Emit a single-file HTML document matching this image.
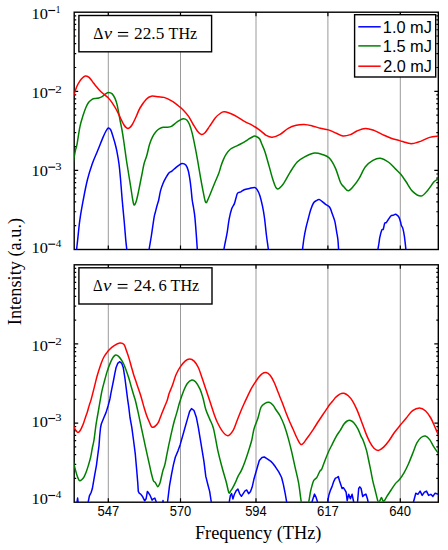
<!DOCTYPE html><html><head><meta charset="utf-8"><style>html,body{margin:0;padding:0;background:#fff;}svg{display:block;}</style></head><body>
<svg width="448" height="550" viewBox="0 0 448 550">
<defs><clipPath id="cT"><rect x="74.2" y="12.2" width="364.1" height="237.3"/></clipPath>
<clipPath id="cB"><rect x="74.2" y="264.8" width="364.1" height="237.4"/></clipPath></defs>
<rect width="448" height="550" fill="#fff"/>
<path d="M108.3,12.2 V249.5 M180.5,12.2 V249.5 M256,12.2 V249.5 M327.9,12.2 V249.5 M400.3,12.2 V249.5" stroke="#9a9a9a" stroke-width="1" fill="none"/>
<path d="M108.3,249.5 v-4 M108.3,12.2 v4 M180.5,249.5 v-4 M180.5,12.2 v4 M256,249.5 v-4 M256,12.2 v4 M327.9,249.5 v-4 M327.9,12.2 v4 M400.3,249.5 v-4 M400.3,12.2 v4 M74.2,67.49 h2 M438.3,67.49 h-2 M74.2,53.56 h2 M438.3,53.56 h-2 M74.2,43.68 h2 M438.3,43.68 h-2 M74.2,36.01 h2 M438.3,36.01 h-2 M74.2,29.75 h2 M438.3,29.75 h-2 M74.2,24.45 h2 M438.3,24.45 h-2 M74.2,19.87 h2 M438.3,19.87 h-2 M74.2,15.82 h2 M438.3,15.82 h-2 M74.2,91.3 h4 M438.3,91.3 h-4 M74.2,146.59 h2 M438.3,146.59 h-2 M74.2,132.66 h2 M438.3,132.66 h-2 M74.2,122.78 h2 M438.3,122.78 h-2 M74.2,115.11 h2 M438.3,115.11 h-2 M74.2,108.85 h2 M438.3,108.85 h-2 M74.2,103.55 h2 M438.3,103.55 h-2 M74.2,98.97 h2 M438.3,98.97 h-2 M74.2,94.92 h2 M438.3,94.92 h-2 M74.2,170.4 h4 M438.3,170.4 h-4 M74.2,225.69 h2 M438.3,225.69 h-2 M74.2,211.76 h2 M438.3,211.76 h-2 M74.2,201.88 h2 M438.3,201.88 h-2 M74.2,194.21 h2 M438.3,194.21 h-2 M74.2,187.95 h2 M438.3,187.95 h-2 M74.2,182.65 h2 M438.3,182.65 h-2 M74.2,178.07 h2 M438.3,178.07 h-2 M74.2,174.02 h2 M438.3,174.02 h-2" stroke="#000" stroke-width="1.2" fill="none"/>
<rect x="74.2" y="12.2" width="364.1" height="237.3" fill="none" stroke="#000" stroke-width="1.4"/>
<g clip-path="url(#cT)" fill="none" stroke-width="1.5" stroke-linejoin="round" stroke-linecap="round">
<path d="M76.2,255 C76.27,254.08 76.37,251.93 76.6,249.5 C76.83,247.07 77.07,245.27 77.6,240.4 C78.13,235.53 78.87,227 79.8,220.3 C80.73,213.6 81.95,206.88 83.2,200.2 C84.45,193.52 85.8,186.23 87.3,180.2 C88.8,174.17 90.48,168.9 92.2,164 C93.92,159.1 95.8,155.23 97.6,150.8 C99.4,146.37 101.6,140.7 103,137.4 C104.4,134.1 105.12,132.57 106,131 C106.88,129.43 107.55,128.25 108.3,128 C109.05,127.75 109.9,128.68 110.5,129.5 C111.1,130.32 111.22,130.83 111.9,132.9 C112.58,134.97 113.78,138.92 114.6,141.9 C115.42,144.88 116.07,147.12 116.8,150.8 C117.53,154.48 118.37,159.13 119,164 C119.63,168.87 120.07,174 120.6,180 C121.13,186 121.62,193.28 122.2,200 C122.78,206.72 123.5,213.57 124.1,220.3 C124.7,227.03 125.35,235.53 125.8,240.4 C126.25,245.27 126.57,247.07 126.8,249.5 C127.03,251.93 127.13,254.08 127.2,255" stroke="#00f"/>
<path d="M148.5,255 C148.6,254.08 148.6,252.83 149.1,249.5 C149.6,246.17 150.67,240.35 151.5,235 C152.33,229.65 153.45,221.23 154.1,217.4 C154.75,213.57 154.88,214.07 155.4,212 C155.92,209.93 156.65,207 157.2,205 C157.75,203 158.15,202.35 158.7,200 C159.25,197.65 159.8,193.62 160.5,190.9 C161.2,188.18 162,185.9 162.9,183.7 C163.8,181.5 164.9,179.5 165.9,177.7 C166.9,175.9 167.9,174 168.9,172.9 C169.9,171.8 170.7,172.02 171.9,171.1 C173.1,170.18 174.83,168.45 176.1,167.4 C177.37,166.35 178.5,165.45 179.5,164.8 C180.5,164.15 181.05,163.47 182.1,163.5 C183.15,163.53 184.78,163.83 185.8,165 C186.82,166.17 187.5,167.98 188.2,170.5 C188.9,173.02 189.5,176.85 190,180.1 C190.5,183.35 190.83,186.68 191.2,190 C191.57,193.32 191.8,197 192.2,200 C192.6,203 193.15,205.1 193.6,208 C194.05,210.9 194.47,213.15 194.9,217.4 C195.33,221.65 195.8,228.15 196.2,233.5 C196.6,238.85 197.07,245.92 197.3,249.5 C197.53,253.08 197.55,254.08 197.6,255" stroke="#00f"/>
<path d="M223.3,255 C223.4,254.08 223.53,251.83 223.9,249.5 C224.27,247.17 224.95,243.85 225.5,241 C226.05,238.15 226.6,236.02 227.2,232.4 C227.8,228.78 228.35,223.23 229.1,219.3 C229.85,215.37 230.82,211.42 231.7,208.8 C232.58,206.18 233.68,205.4 234.4,203.6 C235.12,201.8 235.47,199.75 236,198 C236.53,196.25 236.78,194.13 237.6,193.1 C238.42,192.07 239.8,192.35 240.9,191.8 C242,191.25 242.78,190.35 244.2,189.8 C245.62,189.25 247.67,188.88 249.4,188.5 C251.13,188.12 253.28,187.28 254.6,187.5 C255.92,187.72 256.42,188.43 257.3,189.8 C258.18,191.17 259.03,192.97 259.9,195.7 C260.77,198.43 261.73,202.48 262.5,206.2 C263.27,209.92 263.85,213.2 264.5,218 C265.15,222.8 265.75,229.75 266.4,235 C267.05,240.25 268,246.17 268.4,249.5 C268.8,252.83 268.73,254.08 268.8,255" stroke="#00f"/>
<path d="M301.8,255 C301.92,254.08 302.13,252.33 302.5,249.5 C302.87,246.67 303.4,241.72 304,238 C304.6,234.28 305.37,230.5 306.1,227.2 C306.83,223.9 307.63,221.12 308.4,218.2 C309.17,215.28 309.85,212.23 310.7,209.7 C311.55,207.17 312.57,204.5 313.5,203 C314.43,201.5 315.37,201.27 316.3,200.7 C317.23,200.13 318.17,199.5 319.1,199.6 C320.03,199.7 320.87,200.55 321.9,201.3 C322.93,202.05 324.17,203.27 325.3,204.1 C326.43,204.93 327.85,205.55 328.7,206.3 C329.55,207.05 329.75,207.18 330.4,208.6 C331.05,210.02 331.85,212.63 332.6,214.8 C333.35,216.97 334.23,218.78 334.9,221.6 C335.57,224.42 336.1,228.7 336.6,231.7 C337.1,234.7 337.57,236.63 337.9,239.6 C338.23,242.57 338.43,246.93 338.6,249.5 C338.77,252.07 338.85,254.08 338.9,255" stroke="#00f"/>
<path d="M377.5,255 C377.57,254.08 377.65,251.5 377.9,249.5 C378.15,247.5 378.68,245.02 379,243 C379.32,240.98 379.33,239.57 379.8,237.4 C380.27,235.23 381.22,231.38 381.8,230 C382.38,228.62 382.82,230.23 383.3,229.1 C383.78,227.97 384.22,224.27 384.7,223.2 C385.18,222.13 385.62,223.28 386.2,222.7 C386.78,222.12 387.38,220.85 388.2,219.7 C389.02,218.55 390.28,216.53 391.1,215.8 C391.92,215.07 392.37,215.55 393.1,215.3 C393.83,215.05 394.77,214.27 395.5,214.3 C396.23,214.33 396.92,215 397.5,215.5 C398.08,216 398.5,216.27 399,217.3 C399.5,218.33 400.1,220.32 400.5,221.7 C400.9,223.08 401,224.45 401.4,225.6 C401.8,226.75 402.4,226.8 402.9,228.6 C403.4,230.4 403.9,232.92 404.4,236.4 C404.9,239.88 405.58,246.4 405.9,249.5 C406.22,252.6 406.23,254.08 406.3,255" stroke="#00f"/>
<path d="M73,164 C73.17,163 73.58,160.33 74,158 C74.42,155.67 75,152.27 75.5,150 C76,147.73 76.25,148.35 77,144.4 C77.75,140.45 78.97,131.18 80,126.3 C81.03,121.42 82.2,118.27 83.2,115.1 C84.2,111.93 85.08,109.43 86,107.3 C86.92,105.17 87.68,103.63 88.7,102.3 C89.72,100.97 90.98,99.95 92.1,99.3 C93.22,98.65 94.28,98.62 95.4,98.4 C96.52,98.18 97.68,98.28 98.8,98 C99.92,97.72 100.98,97.38 102.1,96.7 C103.22,96.02 104.38,94.6 105.5,93.9 C106.62,93.2 107.68,92.5 108.8,92.5 C109.92,92.5 111.17,92.92 112.2,93.9 C113.23,94.88 114.17,96.53 115,98.4 C115.83,100.27 116.37,101.5 117.2,105.1 C118.03,108.7 119.2,115.85 120,120 C120.8,124.15 121.4,126.67 122,130 C122.6,133.33 123.1,136.67 123.6,140 C124.1,143.33 124.53,146.67 125,150 C125.47,153.33 125.9,156.67 126.4,160 C126.9,163.33 127.47,166.67 128,170 C128.53,173.33 129.07,176.67 129.6,180 C130.13,183.33 130.7,186.83 131.2,190 C131.7,193.17 132.13,196.5 132.6,199 C133.07,201.5 133.43,204.5 134,205 C134.57,205.5 135.33,203.83 136,202 C136.67,200.17 137.33,197 138,194 C138.67,191 139.33,187.33 140,184 C140.67,180.67 141.33,177.33 142,174 C142.67,170.67 143.2,167.08 144,164 C144.8,160.92 145.88,158.75 146.8,155.5 C147.72,152.25 148.58,147.53 149.5,144.5 C150.42,141.47 151.23,139.42 152.3,137.3 C153.37,135.18 154.7,133.23 155.9,131.8 C157.1,130.37 158.28,129.45 159.5,128.7 C160.72,127.95 161.83,127.53 163.2,127.3 C164.57,127.07 166.33,127.45 167.7,127.3 C169.07,127.15 170.18,127.02 171.4,126.4 C172.62,125.78 173.8,124.52 175,123.6 C176.2,122.68 177.23,121.72 178.6,120.9 C179.97,120.08 181.83,118.85 183.2,118.7 C184.57,118.55 185.75,119.03 186.8,120 C187.85,120.97 188.58,122.23 189.5,124.5 C190.42,126.77 191.38,129.95 192.3,133.6 C193.22,137.25 194.1,141.85 195,146.4 C195.9,150.95 196.78,155.75 197.7,160.9 C198.62,166.05 199.58,172.15 200.5,177.3 C201.42,182.45 202.32,187.6 203.2,191.8 C204.08,196 204.9,201.47 205.8,202.5 C206.7,203.53 207.65,199.92 208.6,198 C209.55,196.08 210.5,193.47 211.5,191 C212.5,188.53 213.37,186.2 214.6,183.2 C215.83,180.2 217.83,175.87 218.9,173 C219.97,170.13 220.27,168.18 221,166 C221.73,163.82 222.43,161.88 223.3,159.9 C224.17,157.92 224.98,155.92 226.2,154.1 C227.42,152.28 228.67,150.45 230.6,149 C232.53,147.55 235.87,146.37 237.8,145.4 C239.73,144.43 240.5,144.17 242.2,143.2 C243.9,142.23 246.45,140.55 248,139.6 C249.55,138.65 250.4,138.1 251.5,137.5 C252.6,136.9 253.65,136.08 254.6,136 C255.55,135.92 256.35,136.5 257.2,137 C258.05,137.5 258.9,137.75 259.7,139 C260.5,140.25 261.12,142.33 262,144.5 C262.88,146.67 263.82,148.4 265,152 C266.18,155.6 267.75,161.4 269.1,166.1 C270.45,170.8 271.77,176.42 273.1,180.2 C274.43,183.98 275.43,188.13 277.1,188.8 C278.77,189.47 280.92,186.98 283.1,184.2 C285.28,181.42 287.85,175.78 290.2,172.1 C292.55,168.42 294.87,164.6 297.2,162.1 C299.53,159.6 301.35,158.6 304.2,157.1 C307.05,155.6 311.28,153.53 314.3,153.1 C317.32,152.67 319.8,153.67 322.3,154.5 C324.8,155.33 327.12,155.83 329.3,158.1 C331.48,160.37 333.55,164.08 335.4,168.1 C337.25,172.12 338.97,179.05 340.4,182.2 C341.83,185.35 342.68,185.57 344,187 C345.32,188.43 346.7,190.95 348.3,190.8 C349.9,190.65 351.82,188.13 353.6,186.1 C355.38,184.07 357.03,181.82 359,178.6 C360.97,175.38 363.08,169.83 365.4,166.8 C367.72,163.77 370.4,161.83 372.9,160.4 C375.4,158.97 377.72,157.85 380.4,158.2 C383.08,158.55 386.5,160.72 389,162.5 C391.5,164.28 393.43,166.93 395.4,168.9 C397.37,170.87 399.02,172.15 400.8,174.3 C402.58,176.45 404.13,178.95 406.1,181.8 C408.07,184.65 410.1,189.02 412.6,191.4 C415.1,193.78 418.6,196.27 421.1,196.1 C423.6,195.93 425.45,192.78 427.6,190.4 C429.75,188.02 432.18,183.77 434,181.8 C435.82,179.83 437.75,179.13 438.5,178.6" stroke="#008000"/>
<path d="M74,95 C74.42,93.7 75.53,89.52 76.5,87.2 C77.47,84.88 78.78,82.68 79.8,81.1 C80.82,79.52 81.67,78.55 82.6,77.7 C83.53,76.85 84.38,76.08 85.4,76 C86.42,75.92 87.58,76.35 88.7,77.2 C89.82,78.05 90.98,79.72 92.1,81.1 C93.22,82.48 94.28,84.12 95.4,85.5 C96.52,86.88 97.68,88.18 98.8,89.4 C99.92,90.62 100.98,91.77 102.1,92.8 C103.22,93.83 104.38,94.67 105.5,95.6 C106.62,96.53 107.68,97.2 108.8,98.4 C109.92,99.6 111,101.03 112.2,102.8 C113.4,104.57 114.7,106.63 116,109 C117.3,111.37 118.67,114.33 120,117 C121.33,119.67 122.67,123.08 124,125 C125.33,126.92 126.67,128.5 128,128.5 C129.33,128.5 130.67,126.92 132,125 C133.33,123.08 134.67,119.83 136,117 C137.33,114.17 138.28,110.97 140,108 C141.72,105.03 144.42,101.17 146.3,99.2 C148.18,97.23 149.28,96.6 151.3,96.2 C153.32,95.8 156.28,96.6 158.4,96.8 C160.52,97 161.73,96.67 164,97.4 C166.27,98.13 169.32,99.57 172,101.2 C174.68,102.83 178.23,105.73 180.1,107.2 C181.97,108.67 181.78,108.47 183.2,110 C184.62,111.53 186.93,113.98 188.6,116.4 C190.27,118.82 191.68,121.98 193.2,124.5 C194.72,127.02 196.33,129.83 197.7,131.5 C199.07,133.17 200.18,134.3 201.4,134.5 C202.62,134.7 203.65,134.05 205,132.7 C206.35,131.35 207.83,128.82 209.5,126.4 C211.17,123.98 213.33,120.27 215,118.2 C216.67,116.13 217.95,115.07 219.5,114 C221.05,112.93 221.83,111.6 224.3,111.8 C226.77,112 230.95,113.62 234.3,115.2 C237.65,116.78 241.38,119.62 244.4,121.3 C247.42,122.98 249.8,123.8 252.4,125.3 C255,126.8 257.72,128.63 260,130.3 C262.28,131.97 264.08,134.13 266.1,135.3 C268.12,136.47 269.77,137.47 272.1,137.3 C274.43,137.13 277.42,135.8 280.1,134.3 C282.78,132.8 285.52,129.8 288.2,128.3 C290.88,126.8 293.53,125.93 296.2,125.3 C298.87,124.67 301.52,124.4 304.2,124.5 C306.88,124.6 309.62,125.27 312.3,125.9 C314.98,126.53 317.63,127.63 320.3,128.3 C322.97,128.97 325.62,129.07 328.3,129.9 C330.98,130.73 333.95,132.28 336.4,133.3 C338.85,134.32 340.67,135.78 343,136 C345.33,136.22 348.08,135.43 350.4,134.6 C352.72,133.77 354.4,132.03 356.9,131 C359.4,129.97 362.55,128.5 365.4,128.4 C368.25,128.3 371.13,129.37 374,130.4 C376.87,131.43 379.75,133.28 382.6,134.6 C385.45,135.92 388.25,137.3 391.1,138.3 C393.95,139.3 397.2,139.88 399.7,140.6 C402.2,141.32 403.95,142.1 406.1,142.6 C408.25,143.1 410.1,143.85 412.6,143.6 C415.1,143.35 418.25,142.13 421.1,141.1 C423.95,140.07 426.8,138.23 429.7,137.4 C432.6,136.57 437.03,136.32 438.5,136.1" stroke="#f00"/>
</g>
<text x="31.51" y="18.9" font-family="'Liberation Serif', serif" font-size="15.34" textLength="16.34" lengthAdjust="spacingAndGlyphs" fill="#000">10</text>
<rect x="48.3" y="9.93" width="6.9" height="1.15" fill="#000"/>
<text x="55.81" y="13.3" font-family="'Liberation Serif', serif" font-size="9.39" textLength="4.65" lengthAdjust="spacingAndGlyphs" fill="#000">1</text>
<text x="31.51" y="98.1" font-family="'Liberation Serif', serif" font-size="15.34" textLength="16.34" lengthAdjust="spacingAndGlyphs" fill="#000">10</text>
<rect x="48.3" y="89.13" width="6.9" height="1.15" fill="#000"/>
<text x="55.31" y="92.5" font-family="'Liberation Serif', serif" font-size="9.39" textLength="6.5" lengthAdjust="spacingAndGlyphs" fill="#000">2</text>
<text x="31.51" y="175.6" font-family="'Liberation Serif', serif" font-size="15.34" textLength="16.34" lengthAdjust="spacingAndGlyphs" fill="#000">10</text>
<rect x="48.3" y="166.63" width="6.9" height="1.15" fill="#000"/>
<text x="55.34" y="170" font-family="'Liberation Serif', serif" font-size="9.39" textLength="6.27" lengthAdjust="spacingAndGlyphs" fill="#000">3</text>
<text x="31.51" y="252.6" font-family="'Liberation Serif', serif" font-size="15.34" textLength="16.34" lengthAdjust="spacingAndGlyphs" fill="#000">10</text>
<rect x="48.3" y="243.63" width="6.9" height="1.15" fill="#000"/>
<text x="55.68" y="247" font-family="'Liberation Serif', serif" font-size="9.39" textLength="5.59" lengthAdjust="spacingAndGlyphs" fill="#000">4</text>
<path d="M108.3,264.8 V502.2 M180.5,264.8 V502.2 M256,264.8 V502.2 M327.9,264.8 V502.2 M400.3,264.8 V502.2" stroke="#9a9a9a" stroke-width="1" fill="none"/>
<path d="M108.3,502.2 v-4 M108.3,264.8 v4 M180.5,502.2 v-4 M180.5,264.8 v4 M256,502.2 v-4 M256,264.8 v4 M327.9,502.2 v-4 M327.9,264.8 v4 M400.3,502.2 v-4 M400.3,264.8 v4 M74.2,320.11 h2 M438.3,320.11 h-2 M74.2,306.18 h2 M438.3,306.18 h-2 M74.2,296.29 h2 M438.3,296.29 h-2 M74.2,288.62 h2 M438.3,288.62 h-2 M74.2,282.36 h2 M438.3,282.36 h-2 M74.2,277.06 h2 M438.3,277.06 h-2 M74.2,272.47 h2 M438.3,272.47 h-2 M74.2,268.42 h2 M438.3,268.42 h-2 M74.2,343.93 h4 M438.3,343.93 h-4 M74.2,399.25 h2 M438.3,399.25 h-2 M74.2,385.31 h2 M438.3,385.31 h-2 M74.2,375.42 h2 M438.3,375.42 h-2 M74.2,367.75 h2 M438.3,367.75 h-2 M74.2,361.49 h2 M438.3,361.49 h-2 M74.2,356.19 h2 M438.3,356.19 h-2 M74.2,351.6 h2 M438.3,351.6 h-2 M74.2,347.55 h2 M438.3,347.55 h-2 M74.2,423.07 h4 M438.3,423.07 h-4 M74.2,478.38 h2 M438.3,478.38 h-2 M74.2,464.44 h2 M438.3,464.44 h-2 M74.2,454.56 h2 M438.3,454.56 h-2 M74.2,446.89 h2 M438.3,446.89 h-2 M74.2,440.62 h2 M438.3,440.62 h-2 M74.2,435.32 h2 M438.3,435.32 h-2 M74.2,430.74 h2 M438.3,430.74 h-2 M74.2,426.69 h2 M438.3,426.69 h-2" stroke="#000" stroke-width="1.2" fill="none"/>
<rect x="74.2" y="264.8" width="364.1" height="237.4" fill="none" stroke="#000" stroke-width="1.4"/>
<g clip-path="url(#cB)" fill="none" stroke-width="1.5" stroke-linejoin="round" stroke-linecap="round">
<path d="M76.5,506 L77.6,498.1 L78.6,506" stroke="#00f"/>
<path d="M87.5,507 L88.3,501.5 L89.4,495.8 L91.2,492.3 L92.3,488.8 L93.5,481.9 L94.7,474.9 L96.4,465.6 L97.6,456.3 L99,445.8 L99.7,436 L100.5,428 L101.3,424 L103.4,418.7 L106.1,412.4 L108.2,405.5 L109.9,399 L110.9,393.3 L112.2,386.9 L113.5,380.5 L114.7,374.2 L116,367.8 L117.7,363.4 L119.8,361.7 L121.8,363.4 L123.3,367.8 L124.9,378 L126.2,388.2 L127.5,398.4 L128.8,407.3 L130,417.5 L131.8,427.3 L133.5,440 L135.3,454.2 L136.7,470 L137.8,483.4 L138.3,491.4 L139.4,493.4 L140.7,494.1 L142.7,496.8 L144.7,500.8 L146.1,498.8 L147.4,491.4 L148.5,492.8 L149.8,494.8 L150.7,496.8 L152.1,500.1 L153.4,498.8 L154.8,498.1 L156.1,501.5 L157,507" stroke="#00f"/>
<path d="M162.3,506 L163,500.5 L163.7,506" stroke="#00f"/>
<path d="M167,507 L167.6,501.5 L169.5,485.9 L171.5,474.5 L173.4,464.9 L175.3,457.3 L178.1,450.6 L180.1,444.9 L182,438.2 L183.9,431.5 L185.8,424.8 L187.7,418.1 L189.6,411.5 L191.5,408.6 L194,410.5 L196.3,417.2 L198.2,426.7 L200.1,438.2 L202,449.6 L203.9,461.1 L205.8,476.4 L207.7,484 L209.7,491.6 L211.2,501.5 L211.8,507" stroke="#00f"/>
<path d="M229,507 L229.3,501.6 L230.4,495.4 L231.6,493.6 L232.9,498.9 L234.3,494.5 L236.1,490.9 L237.9,489.1 L239.6,493.6 L241.4,496.3 L243.2,493.6 L245,490.9 L246.8,490 L248.6,493.6 L250.4,491.8 L252.1,487.3 L253.9,479.3 L255.7,473 L257.5,466.8 L259.3,460.5 L262,457.5 L264.3,457 L267.3,458.8 L270.9,461.4 L272.7,463.2 L275.4,466.8 L278.9,472.1 L281.6,477.5 L283.4,484.6 L285.2,493.6 L286.6,501.6 L287,507" stroke="#00f"/>
<path d="M311.5,507 L312.1,501.5 L314.5,494.1 L316.1,497.4 L317.4,501.5 L318,507" stroke="#00f"/>
<path d="M327.3,507 L327.7,501.5 L328.9,494.9 L330.5,490.1 L332.2,486.1 L333.8,481.3 L335.4,478.1 L337,477.6 L338.3,476.5 L339.4,480.5 L341,485.3 L342.1,488.5 L343.4,487.7 L345,490.1 L346.1,492.1 L347.2,500.7 L348.7,494.3 L350.4,498.6 L352.1,494.3 L353.6,501.5 L354,507" stroke="#00f"/>
<path d="M356.5,507 L357.6,501.5 L358.7,488.5 L359.8,486.9 L361.1,488.5 L362.7,496.5 L364.3,494.9 L365.9,494.1 L367.5,499 L369.1,507" stroke="#00f"/>
<path d="M413,507 L413.6,501.5 L415.8,493.2 L417.9,494.3 L420.1,491.1 L422.2,495.4 L424.4,492.1 L426.5,491.1 L428.6,495.4 L430.8,494.3 L432.9,496.4 L435.1,493.2 L438.5,494.3" stroke="#00f"/>
<path d="M73,460 C73.17,460.73 73.58,462.7 74,464.4 C74.42,466.1 74.97,468.27 75.5,470.2 C76.03,472.13 76.62,474.35 77.2,476 C77.78,477.65 78.52,479.32 79,480.1 C79.48,480.88 79.52,480.88 80.1,480.7 C80.68,480.52 81.82,479.68 82.5,479 C83.18,478.32 83.62,477.67 84.2,476.6 C84.78,475.53 85.32,474.43 86,472.6 C86.68,470.77 87.53,468.13 88.3,465.6 C89.07,463.07 89.93,460.32 90.6,457.4 C91.27,454.48 91.73,451 92.3,448.1 C92.87,445.2 93.37,443.98 94,440 C94.63,436.02 95.52,428.2 96.1,424.2 C96.68,420.2 97.05,418.62 97.5,416 C97.95,413.38 98.37,411.02 98.8,408.5 C99.23,405.98 99.57,403.87 100.1,400.9 C100.63,397.93 101.25,394.1 102,390.7 C102.75,387.3 103.75,383.68 104.6,380.5 C105.45,377.32 106.27,374.25 107.1,371.6 C107.93,368.95 108.75,366.72 109.6,364.6 C110.45,362.48 111.45,360.32 112.2,358.9 C112.95,357.48 113.47,356.73 114.1,356.1 C114.73,355.47 115.25,355.05 116,355.1 C116.75,355.15 117.75,355.67 118.6,356.4 C119.45,357.13 120.25,358.23 121.1,359.5 C121.95,360.77 122.85,362.18 123.7,364 C124.55,365.82 125.35,368.07 126.2,370.4 C127.05,372.73 127.95,375.25 128.8,378 C129.65,380.75 130.45,383.93 131.3,386.9 C132.15,389.87 133.2,393.45 133.9,395.8 C134.6,398.15 134.78,398.18 135.5,401 C136.22,403.82 137.3,408.62 138.2,412.7 C139.1,416.78 140,421.25 140.9,425.5 C141.8,429.75 142.87,434.77 143.6,438.2 C144.33,441.63 144.35,441.77 145.3,446.1 C146.25,450.43 148.27,459.55 149.3,464.2 C150.33,468.85 150.82,471.25 151.5,474 C152.18,476.75 152.75,479.25 153.4,480.7 C154.05,482.15 154.68,481.7 155.4,482.7 C156.12,483.7 157.02,486.47 157.7,486.7 C158.38,486.93 159.03,485.05 159.5,484.1 C159.97,483.15 159.93,483.25 160.5,481 C161.07,478.75 162.18,473.28 162.9,470.6 C163.62,467.92 164.17,467.43 164.8,464.9 C165.43,462.37 166.07,458.58 166.7,455.4 C167.33,452.22 167.97,448.83 168.6,445.8 C169.23,442.77 169.87,440.07 170.5,437.2 C171.13,434.33 171.77,431.3 172.4,428.6 C173.03,425.9 173.78,422.93 174.3,421 C174.82,419.07 175,418.68 175.5,417 C176,415.32 176.63,413.28 177.3,410.9 C177.97,408.52 178.45,406.02 179.5,402.7 C180.55,399.38 182.3,394.2 183.6,391 C184.9,387.8 185.93,385.33 187.3,383.5 C188.67,381.67 190.43,380.28 191.8,380 C193.17,379.72 194.13,380.28 195.5,381.8 C196.87,383.32 198.75,386.4 200,389.1 C201.25,391.8 202.03,394.6 203,398 C203.97,401.4 204.68,405.98 205.8,409.5 C206.92,413.02 208.42,415.92 209.7,419.1 C210.98,422.28 212.08,423.08 213.5,428.6 C214.92,434.12 216.73,445.6 218.2,452.2 C219.67,458.8 220.95,463.18 222.3,468.2 C223.65,473.22 225.2,478.22 226.3,482.3 C227.4,486.38 228.17,491.27 228.9,492.7 C229.63,494.13 230.1,491.65 230.7,490.9 C231.3,490.15 231.75,489.53 232.5,488.2 C233.25,486.87 234.3,484.83 235.2,482.9 C236.1,480.97 236.87,478.68 237.9,476.6 C238.93,474.52 240.22,472.93 241.4,470.4 C242.58,467.87 243.8,464.68 245,461.4 C246.2,458.12 247.47,454.27 248.6,450.7 C249.73,447.13 250.9,443.62 251.8,440 C252.7,436.38 252.97,432.67 254,429 C255.03,425.33 256.83,421.62 258,418 C259.17,414.38 259.83,409.75 261,407.3 C262.17,404.85 263.65,404.13 265,403.3 C266.35,402.47 267.75,401.97 269.1,402.3 C270.45,402.63 271.93,404.02 273.1,405.3 C274.27,406.58 274.93,408.22 276.1,410 C277.27,411.78 278.77,413.48 280.1,416 C281.43,418.52 282.75,421.42 284.1,425.1 C285.45,428.78 286.98,433.83 288.2,438.1 C289.42,442.37 290.27,445.92 291.4,450.7 C292.53,455.48 293.8,461.43 295,466.8 C296.2,472.17 297.57,477.12 298.6,482.9 C299.63,488.68 300.47,497.32 301.2,501.5 C301.93,505.68 302.37,506.42 303,508 C303.63,509.58 304.33,511 305,511 C305.67,511 306.37,509.58 307,508 C307.63,506.42 308.22,504.22 308.8,501.5 C309.38,498.78 309.95,494.4 310.5,491.7 C311.05,489 311.57,487.17 312.1,485.3 C312.63,483.43 313.17,481.57 313.7,480.5 C314.23,479.43 314.77,479.43 315.3,478.9 C315.83,478.37 316.37,478.12 316.9,477.3 C317.43,476.48 317.97,475.08 318.5,474 C319.03,472.92 319.57,471.6 320.1,470.8 C320.63,470 321,470.63 321.7,469.2 C322.4,467.77 323.2,465.03 324.3,462.2 C325.4,459.37 326.97,455.22 328.3,452.2 C329.63,449.18 330.95,446.78 332.3,444.1 C333.65,441.42 335.05,438.43 336.4,436.1 C337.75,433.77 339.13,432.12 340.4,430.1 C341.67,428.08 342.87,425.52 344,424 C345.13,422.48 346.13,421.6 347.2,421 C348.27,420.4 349.33,420.15 350.4,420.4 C351.47,420.65 352.35,421.08 353.6,422.5 C354.85,423.92 356.65,426.58 357.9,428.9 C359.15,431.22 360.2,434.43 361.1,436.4 C362,438.37 362.4,438.37 363.3,440.7 C364.2,443.03 365.62,447.18 366.5,450.4 C367.38,453.62 367.88,456.62 368.6,460 C369.32,463.38 370.08,467.13 370.8,470.7 C371.52,474.27 372.18,478.18 372.9,481.4 C373.62,484.62 374.38,487.13 375.1,490 C375.82,492.87 376.67,496.6 377.2,498.6 C377.73,500.6 377.83,501.68 378.3,502 C378.77,502.32 379.47,501.25 380,500.5 C380.53,499.75 381,497.42 381.5,497.5 C382,497.58 382.5,500.5 383,501 C383.5,501.5 383.85,501.27 384.5,500.5 C385.15,499.73 385.8,498.15 386.9,496.4 C388,494.65 389.68,492.13 391.1,490 C392.52,487.87 393.97,485.38 395.4,483.6 C396.83,481.82 398.27,481.08 399.7,479.3 C401.13,477.52 402.57,475.4 404,472.9 C405.43,470.4 406.87,467.52 408.3,464.3 C409.73,461.08 411.17,457.17 412.6,453.6 C414.03,450.03 415.48,445.58 416.9,442.9 C418.32,440.22 419.68,438.65 421.1,437.5 C422.52,436.35 423.97,435.65 425.4,436 C426.83,436.35 428.27,437.75 429.7,439.6 C431.13,441.45 432.53,444.77 434,447.1 C435.47,449.43 437.75,452.52 438.5,453.6" stroke="#008000"/>
<path d="M73,424 C73.17,424.48 73.57,425.88 74,426.9 C74.43,427.92 74.95,429.18 75.6,430.1 C76.25,431.02 77.13,432.33 77.9,432.4 C78.67,432.47 79.52,431.42 80.2,430.5 C80.88,429.58 81.4,428.25 82,426.9 C82.6,425.55 83.2,424.07 83.8,422.4 C84.4,420.73 84.98,418.72 85.6,416.9 C86.22,415.08 86.88,413.47 87.5,411.5 C88.12,409.53 88.7,407.08 89.3,405.1 C89.9,403.12 90.15,403.05 91.1,399.6 C92.05,396.15 94.03,388.22 95,384.4 C95.97,380.58 96.27,379.03 96.9,376.7 C97.53,374.37 98.05,372.73 98.8,370.4 C99.55,368.07 100.55,364.93 101.4,362.7 C102.25,360.47 103.05,358.58 103.9,357 C104.75,355.42 105.65,354.37 106.5,353.2 C107.35,352.03 107.72,351.25 109,350 C110.28,348.75 112.4,346.85 114.2,345.7 C116,344.55 118.17,343.3 119.8,343.1 C121.43,342.9 122.93,343.35 124,344.5 C125.07,345.65 125.4,347.82 126.2,350 C127,352.18 127.95,354.85 128.8,357.6 C129.65,360.35 130.45,363.52 131.3,366.5 C132.15,369.48 133.07,372.83 133.9,375.5 C134.73,378.17 135.23,379.37 136.3,382.5 C137.37,385.63 138.97,390 140.3,394.3 C141.63,398.6 143.22,404.68 144.3,408.3 C145.38,411.92 145.85,413.45 146.8,416 C147.75,418.55 149.23,421.87 150,423.6 C150.77,425.33 150.87,425.78 151.4,426.4 C151.93,427.02 152.52,427.38 153.2,427.3 C153.88,427.22 154.67,426.67 155.5,425.9 C156.33,425.13 157.45,423.98 158.2,422.7 C158.95,421.42 159.4,419.72 160,418.2 C160.6,416.68 161.2,415.12 161.8,413.6 C162.4,412.08 162.98,410.62 163.6,409.1 C164.22,407.58 164.88,406.02 165.5,404.5 C166.12,402.98 166.7,401.82 167.3,400 C167.9,398.18 168.5,395.42 169.1,393.6 C169.7,391.78 170.3,390.62 170.9,389.1 C171.5,387.58 172.1,386.18 172.7,384.5 C173.3,382.82 173.93,380.67 174.5,379 C175.07,377.33 175.17,376.47 176.1,374.5 C177.03,372.53 178.6,369.43 180.1,367.2 C181.6,364.97 183.5,362.45 185.1,361.1 C186.7,359.75 188.2,359.1 189.7,359.1 C191.2,359.1 192.68,359.75 194.1,361.1 C195.52,362.45 196.85,364.35 198.2,367.2 C199.55,370.05 200.87,374.35 202.2,378.2 C203.53,382.05 204.87,386.28 206.2,390.3 C207.53,394.32 208.87,398.28 210.2,402.3 C211.53,406.32 213.03,411.12 214.2,414.4 C215.37,417.68 215.85,419.22 217.2,422 C218.55,424.78 220.52,428.82 222.3,431.1 C224.08,433.38 226.07,435.87 227.9,435.7 C229.73,435.53 231.73,432.72 233.3,430.1 C234.87,427.48 235.97,423.35 237.3,420 C238.63,416.65 240.12,412.83 241.3,410 C242.48,407.17 242.88,406.28 244.4,403 C245.92,399.72 248.8,393.43 250.4,390.3 C252,387.17 252.73,386.22 254,384.2 C255.27,382.18 256.67,379.93 258,378.2 C259.33,376.47 260.65,374.73 262,373.8 C263.35,372.87 264.75,372.37 266.1,372.6 C267.45,372.83 268.77,373.6 270.1,375.2 C271.43,376.8 272.77,379.35 274.1,382.2 C275.43,385.05 276.77,388.95 278.1,392.3 C279.43,395.65 280.77,398.85 282.1,402.3 C283.43,405.75 284.78,409.63 286.1,413 C287.42,416.37 288.82,419.75 290,422.5 C291.18,425.25 292,426.83 293.2,429.5 C294.4,432.17 295.8,435.98 297.2,438.5 C298.6,441.02 299.93,444.68 301.6,444.6 C303.27,444.52 305.25,440.55 307.2,438 C309.15,435.45 311.45,432.05 313.3,429.3 C315.15,426.55 316.63,424.05 318.3,421.5 C319.97,418.95 321.8,416.22 323.3,414 C324.8,411.78 326.27,409.75 327.3,408.2 C328.33,406.65 328.67,405.8 329.5,404.7 C330.33,403.6 331.3,402.78 332.3,401.6 C333.3,400.42 334.48,398.68 335.5,397.6 C336.52,396.52 337.48,395.77 338.4,395.1 C339.32,394.43 340.07,393.9 341,393.6 C341.93,393.3 342.78,392.93 344,393.3 C345.22,393.67 346.87,394.5 348.3,395.8 C349.73,397.1 351.17,398.8 352.6,401.1 C354.03,403.4 355.48,406.38 356.9,409.6 C358.32,412.82 359.68,416.65 361.1,420.4 C362.52,424.15 363.97,428.53 365.4,432.1 C366.83,435.67 368.27,439.12 369.7,441.8 C371.13,444.48 372.57,446.77 374,448.2 C375.43,449.63 376.7,450.58 378.3,450.4 C379.9,450.22 381.82,448.72 383.6,447.1 C385.38,445.48 387.2,443.13 389,440.7 C390.8,438.27 392.43,435.18 394.4,432.5 C396.37,429.82 398.85,426.98 400.8,424.6 C402.75,422.22 404.13,420.52 406.1,418.2 C408.07,415.88 410.38,412.42 412.6,410.7 C414.82,408.98 417.27,407.9 419.4,407.9 C421.53,407.9 423.5,409.02 425.4,410.7 C427.3,412.38 429.18,415.2 430.8,418 C432.42,420.8 433.82,424.67 435.1,427.5 C436.38,430.33 437.68,433.25 438.5,435 C439.32,436.75 439.75,437.5 440,438" stroke="#f00"/>
</g>
<text x="31.51" y="350.9" font-family="'Liberation Serif', serif" font-size="15.34" textLength="16.34" lengthAdjust="spacingAndGlyphs" fill="#000">10</text>
<rect x="48.3" y="341.93" width="6.9" height="1.15" fill="#000"/>
<text x="55.31" y="345.3" font-family="'Liberation Serif', serif" font-size="9.39" textLength="6.5" lengthAdjust="spacingAndGlyphs" fill="#000">2</text>
<text x="31.51" y="426.9" font-family="'Liberation Serif', serif" font-size="15.34" textLength="16.34" lengthAdjust="spacingAndGlyphs" fill="#000">10</text>
<rect x="48.3" y="417.93" width="6.9" height="1.15" fill="#000"/>
<text x="55.34" y="421.3" font-family="'Liberation Serif', serif" font-size="9.39" textLength="6.27" lengthAdjust="spacingAndGlyphs" fill="#000">3</text>
<text x="31.51" y="503.9" font-family="'Liberation Serif', serif" font-size="15.34" textLength="16.34" lengthAdjust="spacingAndGlyphs" fill="#000">10</text>
<rect x="48.3" y="494.93" width="6.9" height="1.15" fill="#000"/>
<text x="55.68" y="498.3" font-family="'Liberation Serif', serif" font-size="9.39" textLength="5.59" lengthAdjust="spacingAndGlyphs" fill="#000">4</text>
<rect x="78.9" y="15.5" width="132.7" height="36.3" fill="#fff" stroke="#000" stroke-width="1.4"/>
<text x="93.37" y="38.8" font-family="'Liberation Serif', serif" font-size="16.36" textLength="10.13" lengthAdjust="spacingAndGlyphs" fill="#000">Δ</text>
<text x="103.72" y="38.8" font-family="'Liberation Serif', serif" font-size="16.74" font-style="italic" textLength="8.36" lengthAdjust="spacingAndGlyphs" fill="#000">ν</text>
<rect x="117.9" y="31.95" width="10.3" height="1.1" fill="#000"/><rect x="117.9" y="35.5" width="10.3" height="1.1" fill="#000"/>
<text x="134.12" y="38.8" font-family="'Liberation Serif', serif" font-size="16.97" textLength="30.17" lengthAdjust="spacingAndGlyphs" fill="#000">22.5</text>
<text x="168.58" y="38.8" font-family="'Liberation Serif', serif" font-size="16.79" textLength="28.55" lengthAdjust="spacingAndGlyphs" fill="#000">THz</text>
<rect x="78.9" y="267.8" width="133.1" height="36.2" fill="#fff" stroke="#000" stroke-width="1.4"/>
<text x="93.01" y="291.1" font-family="'Liberation Serif', serif" font-size="16.82" textLength="9.56" lengthAdjust="spacingAndGlyphs" fill="#000">Δ</text>
<text x="102.91" y="291.1" font-family="'Liberation Serif', serif" font-size="16.74" font-style="italic" textLength="8.46" lengthAdjust="spacingAndGlyphs" fill="#000">ν</text>
<rect x="117.7" y="283.95" width="9.8" height="1.1" fill="#000"/><rect x="117.7" y="287.5" width="9.8" height="1.1" fill="#000"/>
<text x="133.71" y="291.1" font-family="'Liberation Serif', serif" font-size="16.82" textLength="21.93" lengthAdjust="spacingAndGlyphs" fill="#000">24.</text>
<text x="158.54" y="291.1" font-family="'Liberation Serif', serif" font-size="16.82" textLength="8.26" lengthAdjust="spacingAndGlyphs" fill="#000">6</text>
<text x="170.58" y="291.1" font-family="'Liberation Serif', serif" font-size="16.95" textLength="28.55" lengthAdjust="spacingAndGlyphs" fill="#000">THz</text>
<rect x="354.6" y="14.7" width="81.1" height="62.3" fill="#fff" stroke="#000" stroke-width="1.4"/>
<path d="M358.3,26.8 H380.7" stroke="#00f" stroke-width="1.5"/>
<text x="382.87" y="32.7" font-family="'Liberation Sans', sans-serif" font-size="16.43" textLength="49.07" lengthAdjust="spacingAndGlyphs" fill="#000">1.0 mJ</text>
<path d="M358.3,45.9 H380.7" stroke="#008000" stroke-width="1.5"/>
<text x="382.87" y="51.8" font-family="'Liberation Sans', sans-serif" font-size="16.67" textLength="49.07" lengthAdjust="spacingAndGlyphs" fill="#000">1.5 mJ</text>
<path d="M358.3,66.2 H380.7" stroke="#f00" stroke-width="1.5"/>
<text x="383.29" y="72.1" font-family="'Liberation Sans', sans-serif" font-size="16.43" textLength="48.64" lengthAdjust="spacingAndGlyphs" fill="#000">2.0 mJ</text>
<text x="97.48" y="515.6" font-family="'Liberation Sans', sans-serif" font-size="14.06" textLength="21.82" lengthAdjust="spacingAndGlyphs" fill="#000">547</text>
<text x="169.68" y="515.6" font-family="'Liberation Sans', sans-serif" font-size="13.86" textLength="21.62" lengthAdjust="spacingAndGlyphs" fill="#000">570</text>
<text x="245.18" y="515.6" font-family="'Liberation Sans', sans-serif" font-size="13.86" textLength="21.55" lengthAdjust="spacingAndGlyphs" fill="#000">594</text>
<text x="316.94" y="515.6" font-family="'Liberation Sans', sans-serif" font-size="13.86" textLength="21.96" lengthAdjust="spacingAndGlyphs" fill="#000">617</text>
<text x="389.35" y="515.6" font-family="'Liberation Sans', sans-serif" font-size="13.86" textLength="21.75" lengthAdjust="spacingAndGlyphs" fill="#000">640</text>
<text x="194.95" y="538.6" font-family="'Liberation Serif', serif" font-size="18.13" textLength="126.45" lengthAdjust="spacingAndGlyphs" fill="#000">Frequency (THz)</text>
<text transform="translate(20.9,325.14) rotate(-90)" x="0" y="0" font-family="'Liberation Serif', serif" font-size="17.99" textLength="107.25" lengthAdjust="spacingAndGlyphs" fill="#000">Intensity (a.u.)</text>
</svg></body></html>
